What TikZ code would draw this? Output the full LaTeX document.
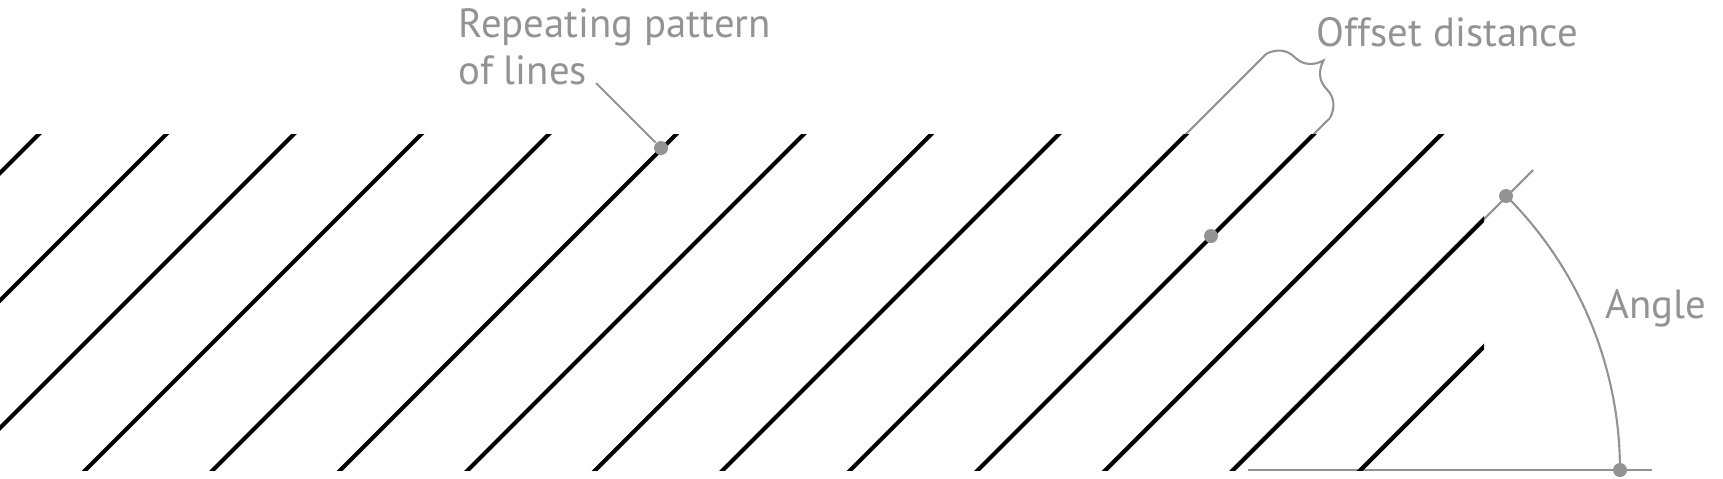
\documentclass[tikz,border=0pt]{standalone}
\usepackage{fontspec}
\setmainfont{PT Sans}
\usetikzlibrary{decorations.pathreplacing}
\definecolor{notegray}{HTML}{939393}
\tikzset{
  hatch/.style={black, line width=1.2pt},
  guide/.style={notegray, line width=0.6pt},
  dot/.style={circle, fill=notegray, inner sep=0pt, minimum size=0.14cm},
  note/.style={notegray, font=\fontsize{11.6}{13.4}\selectfont, inner sep=0pt}
}
\begin{document}
\begin{tikzpicture}[x=0.01cm, y=-0.01cm]
\useasboundingbox (0,0) rectangle (1723,478);
% points used by the guides
\coordinate (V) at (1233,470);
\coordinate (rayend) at (1533,170);
\coordinate (legA) at (1151,169);
\coordinate (bl) at (1266,54);
\coordinate (br) at (1330,118);
\coordinate (dline) at (661,148);
\coordinate (doff) at (1211,236);
\coordinate (dtop) at (1506,196);
\coordinate (dbase) at (1620,470);
\coordinate (b0) at (1248,470);
\coordinate (b1) at (1652,470);
\coordinate (repend) at (596,83);
% guides under the hatch
\draw[guide] (V) -- (rayend);
\draw[guide] (legA) -- (bl);
\draw[guide, decorate, decoration={brace, amplitude=0.36cm}] (bl) -- (br);
\draw[guide] (br) -- (doff);
\draw[guide] (b0) -- (b1);
\draw[guide] (dbase) arc[start angle=0, end angle=-45, radius=387];
% hatch lines
\begin{scope}
\clip (0,134) rectangle (1484,470);
\foreach \k in {0,...,13}
  \draw[hatch] ({39+127.5*\k+20},114) -- ({39+127.5*\k-356},490);
\end{scope}
% dots and labels
\node[dot] (linedot) at (dline) {};
\node[dot] (offdot) at (doff) {};
\node[dot] (topdot) at (dtop) {};
\node[dot] (basedot) at (dbase) {};
\node[note, anchor=north west, align=left] (replbl) at (458,8) {Repeating pattern\\of lines};
\node[note, anchor=base west] (offlbl) at (1316,46) {Offset distance};
\node[note, anchor=base west] (anglbl) at (1605,318) {Angle};
\draw[guide] (repend) -- (linedot);
\end{tikzpicture}
\end{document}
